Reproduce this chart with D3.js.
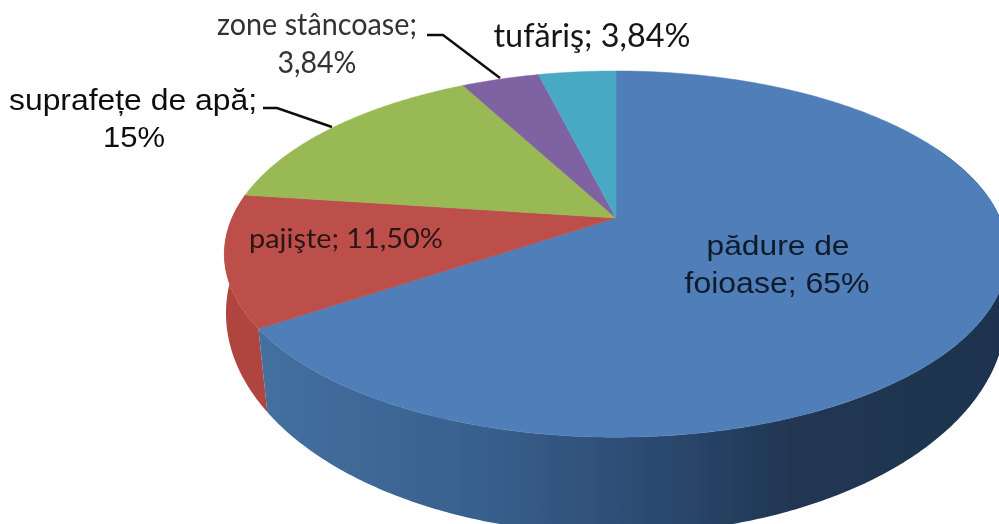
<!DOCTYPE html>
<html><head><meta charset="utf-8">
<style>html,body{margin:0;padding:0;background:#fff;overflow:hidden}svg{display:block}</style>
<script src="https://cdn.jsdelivr.net/npm/d3@7"></script></head><body>
<svg id="c" width="999" height="524"></svg>
<script>
const categories=["pădure de foioase","pajişte","suprafețe de apă","zone stâncoase","tufăriş"];
const values=[65,11.5,15,3.84,3.84];
const topColors=["#4f7eb9","#bd4f4b","#99b955","#7f62a1","#48a9c5"];
const labelLines=["pădure de","foioase; 65%","pajişte; 11,50%","suprafețe de apă;","15%","zone stâncoase;","3,84%","tufăriş; 3,84%"];
const labelPos=[[778,255,28,143,0],[777,293,29,185,0],[346,248,27,194,1],[133,110,30,248,0],[134,147,30,62,0],[317,35,31,200,1],[317,73,30,79,1],[592,47,33,197,1]];
const labelFill=["#111a2c","#111a2c","#2a1414","#111","#111","#333","#333","#151515"];
const fonts=['"Liberation Sans",Arial,sans-serif','Lato,"Open Sans",sans-serif'];
const leaders=[[[427,35],[443,35],[500,78]],[[263,108],[277,108],[332,127]]];

const svg=d3.select("#c");
const k=0.197,Ry=176,Rx=384,cx=616,cy=218;
const k2=0.15;
const px=d3.scaleLinear([0,1],[cx,cx+Rx]), py=d3.scaleLinear([0,1],[cy,cy+Ry]);
const bx=d3.scaleLinear([0,1],[cx,cx+385.6]), by=d3.scaleLinear([0,1],[280,496]);
function proj(a,sx,sy,kk){const u=Math.sin(a),v=-Math.cos(a),w=1-kk*v;return [sx(u/w),sy(v/w)];}
const arcs=d3.pie().sort(null).value(d=>d)(values);
function pts(a0,a1,sx,sy,kk){const n=Math.max(2,Math.ceil((a1-a0)/0.01));return d3.range(n+1).map(i=>proj(a0+(a1-a0)*i/n,sx,sy,kk));}
const line=d3.line();
const defs=svg.append("defs");
const f=defs.append("filter").attr("id","soft").attr("x","-5%").attr("y","-5%").attr("width","110%").attr("height","110%");
f.append("feGaussianBlur").attr("stdDeviation",0.6);
const g=defs.append("linearGradient").attr("id","blueSide").attr("gradientUnits","userSpaceOnUse").attr("x1",259).attr("x2",999).attr("y1",0).attr("y2",0);
[[0,"#44709f"],[0.3,"#38608e"],[0.55,"#2b486e"],[0.72,"#203652"],[1,"#1f334f"]].forEach(s=>g.append("stop").attr("offset",s[0]).attr("stop-color",s[1]));
const root=svg.append("g").attr("filter","url(#soft)");
const sideA=[[Math.PI*0.36,arcs[0].endAngle,"url(#blueSide)"],[arcs[1].startAngle,arcs[1].endAngle,"#b0443f"]];
[sideA[1],sideA[0]].forEach(s=>{
  const a=pts(s[0],s[1],px,py,k),b=pts(s[0],s[1],bx,by,k2).reverse();
  root.append("path").attr("d",line(a.concat(b))+"Z").attr("fill",s[2]);
});
arcs.forEach((d,i)=>{
  const p=[[cx,cy]].concat(pts(d.startAngle,d.endAngle,px,py,k));
  root.append("path").attr("d",line(p)+"Z").attr("fill",topColors[i]).attr("stroke",topColors[i]).attr("stroke-width",.5);
});
leaders.forEach(l=>root.append("path").attr("d",line(l)).attr("fill","none").attr("stroke","#111").attr("stroke-width",2.4));
labelLines.forEach((s,i)=>{
  const [x,y,fs,w,fi]=labelPos[i];
  root.append("text").attr("x",x).attr("y",y).attr("text-anchor","middle").attr("font-size",fs).attr("font-family",fonts[fi]).attr("fill",labelFill[i])
    .attr("textLength",w).attr("lengthAdjust","spacingAndGlyphs").text(s);
});
</script></body></html>
